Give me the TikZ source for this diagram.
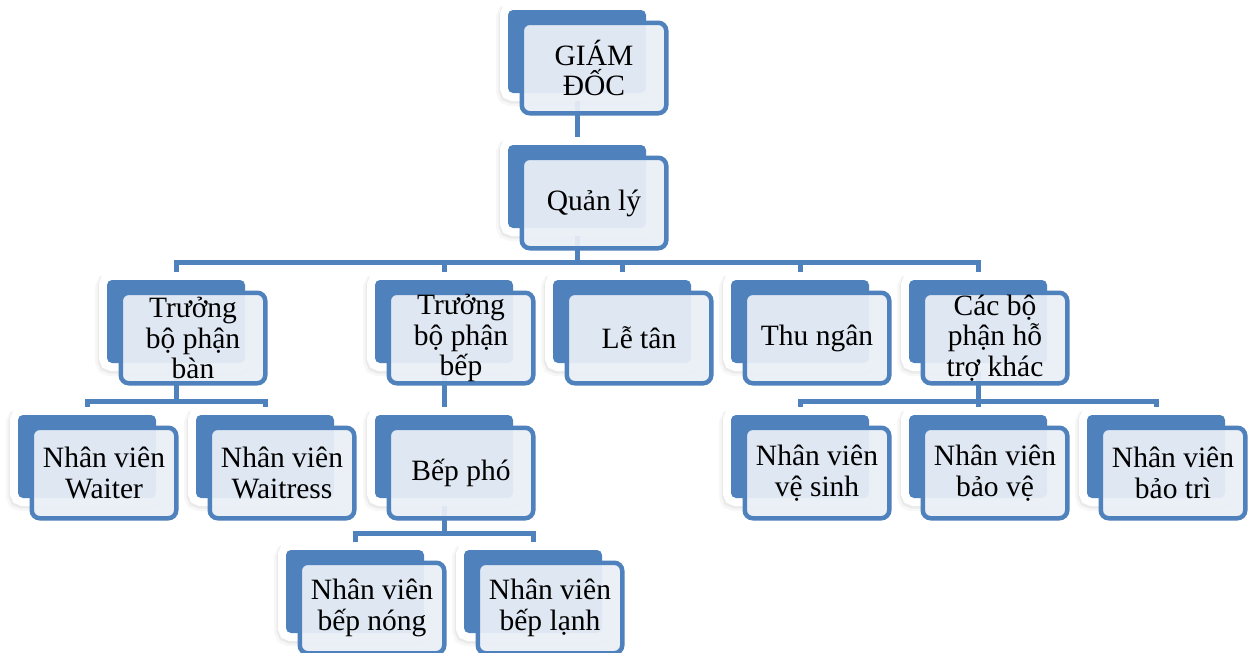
\documentclass[tikz,border=0pt]{standalone}
\usepackage{fontspec}
\setmainfont{Liberation Serif}
\usetikzlibrary{backgrounds}
\definecolor{obl}{HTML}{4F81BD}
\definecolor{ofill}{HTML}{EAEFF7}
\tikzset{
 backbox/.style={minimum width=138pt, minimum height=83pt, inner sep=0pt, fill=obl, rounded corners=5pt,
   preaction={draw=black, draw opacity=0.03, line width=20pt, transform canvas={shift={(-2pt,-3pt)}}},
   preaction={draw=black, draw opacity=0.05, line width=17pt, transform canvas={shift={(-1pt,-2pt)}}},
   preaction={draw=white, line width=16pt}},
 frontbox/.style={minimum width=144.5pt, minimum height=90.5pt, inner sep=0pt, draw=obl, line width=4.5pt,
   fill=ofill, fill opacity=0.93, rounded corners=8pt},
 lbl/.style={align=center, font=\fontsize{29.5}{30.5}\selectfont, inner sep=0pt},
 conn/.style={draw=obl, line width=5pt}
}
\newcommand\orgunit[4]{%
 \node[backbox] (#1) at (#2+69,#3+41.5) {};
 \node[frontbox] (#1-f) at ([xshift=17pt,yshift=-16.5pt]#1.center) {};
 \node[lbl] (#1-t) at (#1-f.center) {#4};
}
\begin{document}
\begin{tikzpicture}[x=1pt,y=-1pt]
\useasboundingbox (0,0) rectangle (1251,653);
\orgunit{gd}{508}{10}{GIÁM\\ĐỐC}
\orgunit{ql}{508}{145}{Quản lý}
\orgunit{tbb}{107}{280}{Trưởng\\bộ phận\\bàn}
\orgunit{tbk}{375}{280}{Trưởng\\bộ phận\\bếp}
\orgunit{lt}{553}{280}{Lễ tân}
\orgunit{tn}{731}{280}{Thu ngân}
\orgunit{cbp}{909}{280}{Các bộ\\phận hỗ\\trợ khác}
\orgunit{wtr}{18}{415}{Nhân viên\\Waiter}
\orgunit{wts}{196}{415}{Nhân viên\\Waitress}
\orgunit{bp}{375}{415}{Bếp phó}
\orgunit{vs}{731}{415}{Nhân viên\\vệ sinh}
\orgunit{bv}{909}{415}{Nhân viên\\bảo vệ}
\orgunit{bt}{1087}{415}{Nhân viên\\bảo trì}
\orgunit{bn}{286}{550}{Nhân viên\\bếp nóng}
\orgunit{bl}{464}{550}{Nhân viên\\bếp lạnh}
\coordinate (b1) at (0,262);
\coordinate (b2) at (0,401);
\coordinate (b3) at (0,533);
\begin{pgfonlayer}{background}
\fill[white] (0,0) rectangle (1251,653);
\draw[conn] (gd.south) -- (ql.north);
\draw[conn] (ql.south) -- (ql.south |- b1);
\draw[conn] (tbb.north) |- (cbp.north |- b1) -- (cbp.north);
\draw[conn] (tbk.north) -- (tbk.north |- b1);
\draw[conn] (lt.north) -- (lt.north |- b1);
\draw[conn] (tn.north) -- (tn.north |- b1);
\draw[conn] (tbb.south) -- (tbb.south |- b2);
\draw[conn] (wtr.north) |- (wts.north |- b2) -- (wts.north);
\draw[conn] (tbk.south) -- (bp.north);
\draw[conn] (cbp.south) -- (cbp.south |- b2);
\draw[conn] (vs.north) |- (bt.north |- b2) -- (bt.north);
\draw[conn] (bv.north) -- (bv.north |- b2);
\draw[conn] (bp.south) -- (bp.south |- b3);
\draw[conn] (bn.north) |- (bl.north |- b3) -- (bl.north);
\end{pgfonlayer}
\end{tikzpicture}
\end{document}
